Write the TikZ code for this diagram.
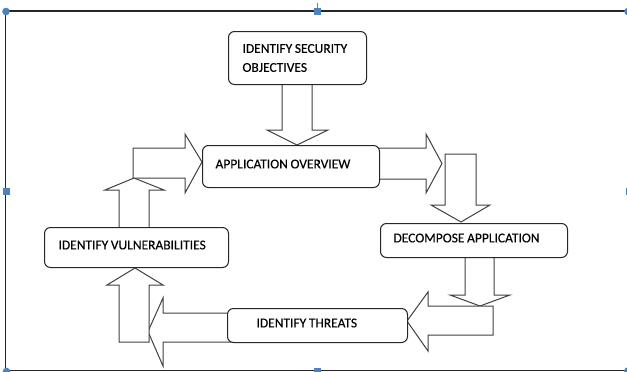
\documentclass[tikz,border=0pt]{standalone}
\usepackage{fontspec}
\setmainfont{Carlito}
\newfontfamily\diafont{Carlito}[FakeBold=0.2]
\definecolor{hblue}{RGB}{79,129,189}
\begin{document}
\begin{tikzpicture}[x=1pt,y=-1pt,
  box/.style={draw=black!85, line width=1pt, rounded corners=6pt, fill=white,
    anchor=north west, inner ysep=0pt, align=left,
    font=\diafont\fontsize{13.5}{19}\selectfont,
    execute at begin node={\spaceskip=2.6pt\relax}},
  oneline/.style={text depth=5pt},
  blk/.style={draw=black!75, line width=1pt, fill=white, line join=miter},
  frame/.style={draw=black!85, line width=1.2pt},
  hsq/.style={fill=hblue},
]
\useasboundingbox (0,0) rectangle (627,372);
\clip (0,0) rectangle (627,372);

% frame
\draw[frame] (640,11) -- (5.7,11) -- (5.7,370.7) -- (640,370.7);

% block arrows
\draw[blk] (282,84) -- (312,84) -- (312,130) -- (328,130) -- (297,145) -- (267,130) -- (282,130) -- cycle;
\draw[blk] (375,148) -- (426,148) -- (426,134) -- (442,163.5) -- (426,193) -- (426,179) -- (375,179) -- cycle;
\draw[blk] (445,154) -- (476,154) -- (476,205) -- (490,205) -- (461,222) -- (431,205) -- (445,205) -- cycle;
\draw[blk] (465,257) -- (494,257) -- (494,295) -- (510,295) -- (480,306) -- (450,295) -- (465,295) -- cycle;
\draw[blk] (493,306) -- (493,335) -- (428,335) -- (428,351) -- (407,321) -- (428,292) -- (428,306) -- cycle;
\draw[blk] (231,313) -- (231,342) -- (163,342) -- (163,366) -- (148,331.5) -- (163,298) -- (163,313) -- cycle;
\draw[blk] (119,342) -- (149,342) -- (149,285) -- (163,285) -- (135,268) -- (107,285) -- (119,285) -- cycle;
\draw[blk] (119,230) -- (149,230) -- (149,190) -- (164,190) -- (134,178) -- (105,190) -- (119,190) -- cycle;
\draw[blk] (133,148) -- (185,148) -- (185,134) -- (202,162) -- (185,193) -- (185,178) -- (133,178) -- cycle;

% boxes
\node[box, inner xsep=14pt, text width=110pt, minimum height=53pt] (sec) at (228,31) {IDENTIFY~SECURITY\\OBJECTIVES};
\node[box, oneline, inner xsep=13pt, text width=151pt, minimum height=42pt] (ov) at (202,145) {APPLICATION~OVERVIEW};
\node[box, oneline, inner xsep=13pt, text width=161pt, minimum height=34pt] (dec) at (380,223) {DECOMPOSE~APPLICATION};
\node[box, oneline, inner xsep=29pt, text width=122pt, minimum height=34pt] (thr) at (227,308) {IDENTIFY~THREATS};
\node[box, oneline, inner xsep=14pt, text width=156pt, minimum height=40pt] (vul) at (44,227) {IDENTIFY~VULNERABILITIES};

% selection handles
\fill[hsq] (313.5,7.5) rectangle (320.5,14.5);
\draw[hblue, line width=0.8pt] (317,7.5) -- (317,3);
\fill[hsq] (2.5,187.5) rectangle (10,195);
\fill[hsq] (625.5,187.5) rectangle (632,195);
\fill[hsq] (314,367.5) rectangle (321,374);
\fill[hblue] (6,11.5) circle (3.8);
\fill[hblue] (6.5,371.5) circle (3.8);
\fill[hblue] (628,11.5) circle (3.8);
\fill[hblue] (628,371) circle (3.8);
\end{tikzpicture}
\end{document}
